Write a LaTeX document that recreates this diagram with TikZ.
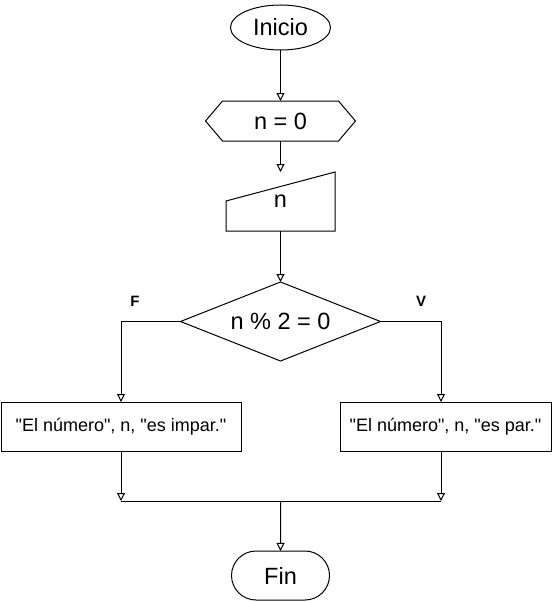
\documentclass[tikz,border=0pt]{standalone}
\usepackage{fontspec}
\setmainfont{Liberation Sans}[Ligatures=TeXOff]
\usepackage{tikz}
\usetikzlibrary{positioning}
\usetikzlibrary{arrows.meta}
\usetikzlibrary{shapes,calc}
\tikzset{big text/.style={font=\fontsize{23.5pt}{28pt}\selectfont},
	term node/.style={draw,ellipse,big text,inner sep=0pt,outer sep=0pt,minimum width=100pt,minimum height=45pt},
	prep node/.style={big text,inner sep=0pt,outer sep=0pt,minimum width=150pt,minimum height=40pt},
	input node/.style={big text,inner sep=0pt,outer sep=0pt,minimum width=109pt,minimum height=59pt},
	cond node/.style={draw,diamond,aspect=2.53,big text,inner sep=0pt,outer sep=0pt,minimum width=200pt,minimum height=79pt},
	out node/.style={draw,rectangle,font=\fontsize{18pt}{22pt}\selectfont,inner sep=0pt,outer sep=0pt,minimum height=49pt},
	branch/.style={font=\bfseries\fontsize{15pt}{18pt}\selectfont},}

\begin{document}
\begin{tikzpicture}[->, >={Triangle[open,length=8pt,width=8pt]}, line width=1pt]
	\useasboundingbox (0pt,0pt) rectangle (556pt,-602pt);
	\node[term node] (inicio) at (280.5pt,-27.5pt) {Inicio};
	\node[prep node] (init) [below = 51pt of inicio] {n = 0};
	\node[input node] (inp) [below = 31pt of init] {n};
	\node[cond node] (dec) [below = 51pt of inp] {n \% 2 = 0};
	\node[out node, minimum width=240pt] (impar) at (121pt,-426.5pt) {"El número", n, "es impar."};
	\node[out node, minimum width=211pt] (par) at (445.5pt,-426.5pt) {"El número", n, "es par."};
	\node[term node, rounded rectangle, minimum width=98pt, minimum height=49pt] (fin) at (280.5pt,-575.5pt) {Fin};
	\node[branch] (f) at (135pt,-301pt) {F};
	\node[branch] (v) at (421pt,-301pt) {V};
	\coordinate (merge) at (280.5pt,-501pt);

	% hexagon and manual input outlines
	\draw[-] (init.west) -- ([xshift=17pt]init.north west) -- ([xshift=-17pt]init.north east)
	  -- (init.east) -- ([xshift=-17pt]init.south east) -- ([xshift=17pt]init.south west) -- cycle;
	\draw[-] (inp.south west) -- ([yshift=-29pt]inp.north west) -- (inp.north east) -- (inp.south east) -- cycle;

	\path[draw]
	(inicio) edge (init)
	(init) edge (inp)
	(inp) edge (dec);

	\draw (dec.west) -| (impar.north);
	\draw (dec.east) -| ([xshift=-4.5pt]par.north);
	\draw (impar.south) -- (impar.south |- merge);
	\draw ([xshift=-4.5pt]par.south) -- ([xshift=-4.5pt]par.south |- merge);
	\draw[-] (impar.south |- merge) -- ([xshift=-4.5pt]par.south |- merge);
	\draw (merge) -- (fin);
\end{tikzpicture}
\end{document}
